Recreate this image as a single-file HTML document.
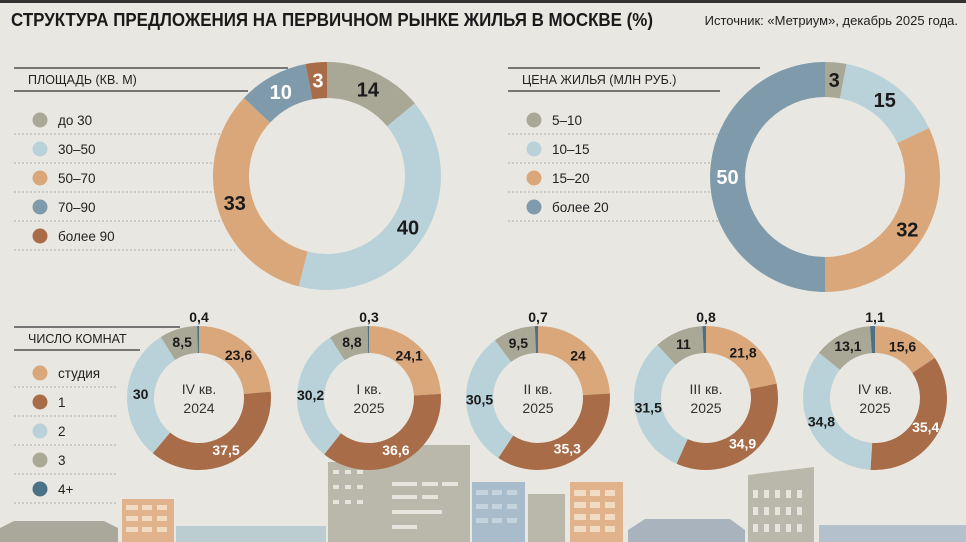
<!DOCTYPE html>
<html><head><meta charset="utf-8">
<style>
body{margin:0;background:#e9e7e1;}
svg{display:block;font-family:"Liberation Sans","Noto Sans CJK SC",sans-serif;}
</style></head>
<body>
<svg id="chart" width="966" height="542" viewBox="0 0 966 542">
<rect x="0" y="0" width="966" height="542" fill="#e9e7e1"/>
<rect x="0" y="0" width="966" height="3" fill="#333"/>
<text x="11" y="26" font-size="18" font-weight="bold" fill="#1a1a1a" textLength="642" lengthAdjust="spacingAndGlyphs">СТРУКТУРА ПРЕДЛОЖЕНИЯ НА ПЕРВИЧНОМ РЫНКЕ ЖИЛЬЯ В МОСКВЕ (%)</text>
<text x="958" y="25" font-size="13" fill="#222" text-anchor="end">Источник: «Метриум», декабрь 2025 года.</text>

<g id="buildings">
  <path d="M0 542 L0 528 L14 521 L104 521 L118 528 L118 542Z" fill="#a9a89a"/>
  <rect x="122" y="499" width="52" height="43" fill="#e0b38d"/>
  <rect x="176" y="526" width="150" height="16" fill="#bccdd2"/>
  <rect x="328" y="462" width="58" height="80" fill="#bab8aa"/>
  <rect x="386" y="445" width="84" height="97" fill="#bab8aa"/>
  <rect x="472" y="482" width="53" height="60" fill="#a9bccb"/>
  <rect x="528" y="494" width="37" height="48" fill="#bab8aa"/>
  <rect x="570" y="482" width="53" height="60" fill="#e0b38d"/>
  <path d="M628 530 L645 519 L730 519 L745 530 L745 542 L628 542Z" fill="#a9b3bd"/>
  <path d="M748 475 L814 467 L814 542 L748 542Z" fill="#bab8aa"/>
  <rect x="819" y="525" width="147" height="17" fill="#b4c0cb"/>
  <g fill="#f1dcc3">
    <rect x="126" y="505" width="12" height="5"/><rect x="142" y="505" width="10" height="5"/><rect x="157" y="505" width="10" height="5"/>
    <rect x="126" y="516" width="12" height="5"/><rect x="142" y="516" width="10" height="5"/><rect x="157" y="516" width="10" height="5"/>
    <rect x="126" y="527" width="12" height="5"/><rect x="142" y="527" width="10" height="5"/><rect x="157" y="527" width="10" height="5"/>
    <rect x="574" y="490" width="12" height="6"/><rect x="590" y="490" width="10" height="6"/><rect x="605" y="490" width="10" height="6"/>
    <rect x="574" y="502" width="12" height="6"/><rect x="590" y="502" width="10" height="6"/><rect x="605" y="502" width="10" height="6"/>
    <rect x="574" y="514" width="12" height="6"/><rect x="590" y="514" width="10" height="6"/><rect x="605" y="514" width="10" height="6"/>
    <rect x="574" y="526" width="12" height="6"/><rect x="590" y="526" width="10" height="6"/><rect x="605" y="526" width="10" height="6"/>
  </g>
  <g fill="#e6e4dc">
    <rect x="333" y="470" width="6" height="4"/><rect x="345" y="470" width="6" height="4"/><rect x="357" y="470" width="6" height="4"/>
    <rect x="333" y="485" width="6" height="4"/><rect x="345" y="485" width="6" height="4"/><rect x="357" y="485" width="6" height="4"/>
    <rect x="333" y="500" width="6" height="4"/><rect x="345" y="500" width="6" height="4"/><rect x="357" y="500" width="6" height="4"/>
    <rect x="392" y="482" width="25" height="4"/><rect x="422" y="482" width="16" height="4"/><rect x="442" y="482" width="16" height="4"/>
    <rect x="392" y="495" width="25" height="4"/><rect x="422" y="495" width="16" height="4"/>
    <rect x="392" y="510" width="50" height="4"/><rect x="392" y="525" width="25" height="4"/>
    <rect x="753" y="490" width="5" height="8"/><rect x="764" y="490" width="5" height="8"/><rect x="775" y="490" width="5" height="8"/><rect x="786" y="490" width="5" height="8"/><rect x="797" y="490" width="5" height="8"/>
    <rect x="753" y="507" width="5" height="8"/><rect x="764" y="507" width="5" height="8"/><rect x="775" y="507" width="5" height="8"/><rect x="786" y="507" width="5" height="8"/><rect x="797" y="507" width="5" height="8"/>
    <rect x="753" y="524" width="5" height="8"/><rect x="764" y="524" width="5" height="8"/><rect x="775" y="524" width="5" height="8"/><rect x="786" y="524" width="5" height="8"/><rect x="797" y="524" width="5" height="8"/>
  </g>
  <g fill="#c5d3dc">
    <rect x="476" y="490" width="12" height="5"/><rect x="492" y="490" width="10" height="5"/><rect x="507" y="490" width="10" height="5"/>
    <rect x="476" y="504" width="12" height="5"/><rect x="492" y="504" width="10" height="5"/><rect x="507" y="504" width="10" height="5"/>
    <rect x="476" y="518" width="12" height="5"/><rect x="492" y="518" width="10" height="5"/><rect x="507" y="518" width="10" height="5"/>
  </g>
</g>

<g id="legends"></g>
<g id="donuts"></g>
</svg>
<script>
const colors = {gray:"#a9a795", light:"#b9d2d9", tan:"#d9a77a", steel:"#7e9aab", brown:"#a96c48", dark:"#4a7186"};

// Area donut
const areaCategories = ["до 30","30–50","50–70","70–90","более 90"];
const areaValues = [14, 40, 33, 10, 3];
// Price donut
const priceCategories = ["5–10","10–15","15–20","более 20"];
const priceValues = [3, 15, 32, 50];
// Rooms donuts
const roomCategories = ["студия","1","2","3","4+"];
const quarterLabels = ["IV кв.|2024","I кв.|2025","II кв.|2025","III кв.|2025","IV кв.|2025"];
const studioValues = [23.6, 24.1, 24, 21.8, 15.6];
const oneRoomValues = [37.5, 36.6, 35.3, 34.9, 35.4];
const twoRoomValues = [30, 30.2, 30.5, 31.5, 34.8];
const threeRoomValues = [8.5, 8.8, 9.5, 11, 13.1];
const fourPlusValues = [0.4, 0.3, 0.7, 0.8, 1.1];

const NS = "http://www.w3.org/2000/svg";
const svg = document.getElementById("chart");
const gD = document.getElementById("donuts");
const gL = document.getElementById("legends");
function mk(tag, attrs, parent){const e=document.createElementNS(NS,tag);for(const k in attrs)e.setAttribute(k,attrs[k]);parent.appendChild(e);return e;}
function pt(cx,cy,r,a){return [cx+r*Math.sin(a), cy-r*Math.cos(a)];}
function arc(cx,cy,ro,ri,a0,a1){
  const large=(a1-a0)>Math.PI?1:0;
  const [x0,y0]=pt(cx,cy,ro,a0),[x1,y1]=pt(cx,cy,ro,a1),[x2,y2]=pt(cx,cy,ri,a1),[x3,y3]=pt(cx,cy,ri,a0);
  return `M${x0} ${y0}A${ro} ${ro} 0 ${large} 1 ${x1} ${y1}L${x2} ${y2}A${ri} ${ri} 0 ${large} 0 ${x3} ${y3}Z`;
}
function fmt(v){return String(v).replace('.',',');}

function donut(cx,cy,ro,ri,values,cols,textCols,fs,name,topIdx){
  const total=values.reduce((a,b)=>a+b,0);
  let a=0;
  const g=mk("g",{},gD);
  
  
  values.forEach((v,i)=>{
    const a1=a+v/total*2*Math.PI;
    const p=mk("path",{d:arc(cx,cy,ro,ri,a,a1),fill:cols[i]},g);
    
    
    const mid=(a+a1)/2;
    let tx,ty;
    if(i===topIdx){tx=cx;ty=cy-ro-4;}
    else {[tx,ty]=pt(cx,cy,(ro+ri)/2,mid); ty+=fs*0.36;}
    const t=mk("text",{x:tx,y:ty,"text-anchor":"middle","font-size":fs,"font-weight":"bold",fill:textCols[i]},g);
    t.textContent=fmt(v);
    
    
    a=a1;
  });
  return g;
}

donut(327,176,114,78,areaValues,[colors.gray,colors.light,colors.tan,colors.steel,colors.brown],["#1a1a1a","#1a1a1a","#1a1a1a","#fff","#fff"],20,"area-donut",-1);
donut(825,177,115,80,priceValues,[colors.gray,colors.light,colors.tan,colors.steel],["#1a1a1a","#1a1a1a","#1a1a1a","#fff"],20,"price-donut",-1);

const centersX=[199,369,538,706,875];
quarterLabels.forEach((q,i)=>{
  const vals=[studioValues[i],oneRoomValues[i],twoRoomValues[i],threeRoomValues[i],fourPlusValues[i]];
  const g=donut(centersX[i],398,72,45,vals,[colors.tan,colors.brown,colors.light,colors.gray,colors.dark],["#1a1a1a","#fff","#1a1a1a","#1a1a1a","#1a1a1a"],14,"rooms-donut-"+i,4);
  const parts=q.split("|");
  parts.forEach((s,j)=>{
    const t=mk("text",{x:centersX[i],y:394+j*19,"text-anchor":"middle","font-size":14,fill:"#333"},g);
    t.textContent=s;
    
    
  });
});

function legend(x,titleY,lineEnd,title,cats,cols,y0,step,dashEnd,name){
  const g=mk("g",{},gL);
  
  
  mk("line",{x1:x,y1:titleY-12,x2:lineEnd,y2:titleY-12,stroke:"#333","stroke-width":1.2},g);
  mk("line",{x1:x,y1:titleY+11,x2:lineEnd-40,y2:titleY+11,stroke:"#333","stroke-width":1.2},g);
  const t=mk("text",{x:x+14,y:titleY+4,"font-size":12.5,fill:"#222"},g);
  t.textContent=title;
  
  
  cats.forEach((c,i)=>{
    const y=y0+i*step;
    const ci=mk("circle",{cx:x+26,cy:y,r:7.5,fill:cols[i]},g);
    
    
    const tt=mk("text",{x:x+44,y:y+5,"font-size":13.5,fill:"#222"},g);
    tt.textContent=c;
    
    
    mk("line",{x1:x,y1:y+14,x2:dashEnd,y2:y+14,stroke:"#999","stroke-width":0.8,"stroke-dasharray":"2 2"},g);
  });
}
legend(14,80,288,"ПЛОЩАДЬ (КВ. М)",areaCategories,[colors.gray,colors.light,colors.tan,colors.steel,colors.brown],120,29,235,"area-legend");
legend(508,80,760,"ЦЕНА ЖИЛЬЯ (МЛН РУБ.)",priceCategories,[colors.gray,colors.light,colors.tan,colors.steel],120,29,720,"price-legend");
legend(14,339,180,"ЧИСЛО КОМНАТ",roomCategories,[colors.tan,colors.brown,colors.light,colors.gray,colors.dark],373,29,118,"rooms-legend");
</script>
</body></html>
